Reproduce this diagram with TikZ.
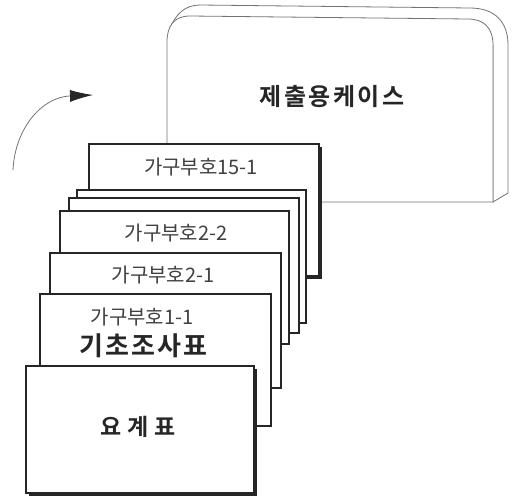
\documentclass[tikz,border=0pt]{standalone}
\usepackage{fontspec}
\newfontfamily\cjk{Noto Sans CJK KR}
\newfontfamily\cjkbA[LetterSpace=10]{Noto Sans CJK KR Bold}
\newfontfamily\cjkbB[LetterSpace=8]{Noto Sans CJK KR Bold}
\newfontfamily\cjkbC[LetterSpace=25]{Noto Sans CJK KR Bold}
\usetikzlibrary{arrows.meta,shadows}
\begin{document}
\begin{tikzpicture}[x=1pt,y=-1pt,
  caseline/.style={draw=black!55, line width=0.8pt},
  card/.style={rectangle, draw=black!85, line width=1.6pt, fill=white, inner sep=0pt, anchor=north west},
  shadowcard/.style={card, drop shadow={shadow xshift=3pt, shadow yshift=-3pt, fill=black!85, opacity=1}},
  lbl/.style={text=black!75, font=\cjk\fontsize{20}{22}\selectfont, inner sep=0pt},
  blbl/.style={text=black!85, inner sep=0pt}]
\useasboundingbox (0,0) rectangle (513,501);
% case (back outline)
\draw[caseline, fill=white] (170,28) .. controls (176,14) and (185,5) .. (200,5) -- (470,8)
  .. controls (495,8) and (508,22) .. (508,45) -- (508,193) -- (493,202) -- (493,45) -- cycle;
% case front face
\draw[caseline, fill=white] (167,202) -- (167,42) .. controls (167,26) and (174,16) .. (190,16)
  -- (468,19) .. controls (484,19) and (493,28) .. (493,45) -- (493,202) -- cycle;
\node[blbl, font=\cjkbA\fontsize{24}{26}\selectfont] (casetext) at (332,97) {제출용케이스};
% arrow
\coordinate (arrs) at (13,170);
\coordinate (arre) at (93,95);
\draw[draw=black!55, line width=0.8pt, -{Latex[length=23pt,width=12pt,color=black!85]}]
  (arrs) .. controls (15,128) and (42,97) .. (arre);
% cards
\node[shadowcard, minimum width=230pt, minimum height=132pt] (c15) at (88,143) {};
\node[card, minimum width=229pt, minimum height=133pt] (ca) at (76,189) {};
\node[card, minimum width=230pt, minimum height=135pt] (cb) at (68,197) {};
\node[card, minimum width=229pt, minimum height=133pt] (c22) at (59,210) {};
\node[card, minimum width=231pt, minimum height=135pt] (c21) at (49,252) {};
\node[card, minimum width=231pt, minimum height=132pt] (c11) at (39,293) {};
\node[shadowcard, minimum width=228pt, minimum height=127pt] (cyo) at (25,365) {};
% labels
\node[lbl] (t15) at (201,167) {가구부호15-1};
\node[lbl] (t22) at (176,233) {가구부호2-2};
\node[lbl] (t21) at (163,275) {가구부호2-1};
\node[lbl] (t11) at (142,317) {가구부호1-1};
\node[blbl, font=\cjkbB\fontsize{26}{28}\selectfont] (tgi) at (143,346) {기초조사표};
\node[blbl, font=\cjkbC\fontsize{23}{25}\selectfont] (tyo) at (138,427) {요계표};
\end{tikzpicture}
\end{document}
